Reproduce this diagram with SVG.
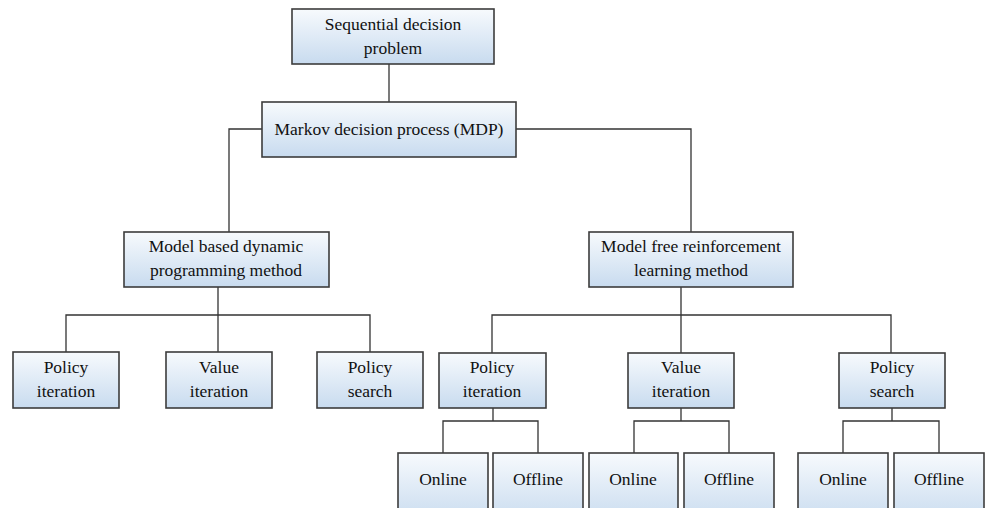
<svg xmlns="http://www.w3.org/2000/svg" width="991" height="508" viewBox="0 0 991 508">
<defs>
<linearGradient id="g" x1="0" y1="0" x2="0" y2="1">
<stop offset="0" stop-color="#f7fafd"/>
<stop offset="1" stop-color="#c8dbef"/>
</linearGradient>
<style>
.box{fill:url(#g);stroke:#3c3c3c;stroke-width:1.6}
.t{font-family:"Liberation Serif","Times New Roman",serif;font-size:17.5px;fill:#111;text-anchor:middle}
.c{fill:none;stroke:#333;stroke-width:1.3}
</style>
</defs>
<rect width="991" height="508" fill="#fff"/>
<g id="connectors" class="c">
<path d="M389 64V102"/>
<path d="M262 129H229V232"/>
<path d="M516 129H691V232"/>
<path d="M218 287V315M66 352V315H370V352M218 315V352"/>
<path d="M681 287V315M492 353V315H891V353M681 315V353"/>
<path d="M493 408V421M443 453V421H538V453"/>
<path d="M681 408V421M634 453V421H729V453"/>
<path d="M892 408V421M843 453V421H939V453"/>
</g>
<g id="n_seq"><rect class="box" x="292" y="9" width="202" height="55"/><text class="t" x="393" y="30">Sequential decision</text><text class="t" x="393" y="54">problem</text></g>
<g id="n_mdp"><rect class="box" x="262" y="102" width="254" height="55"/><text class="t" x="389" y="135">Markov decision process (MDP)</text></g>
<g id="n_mb"><rect class="box" x="124" y="232" width="205" height="55"/><text class="t" x="226" y="252">Model based dynamic</text><text class="t" x="226" y="276">programming method</text></g>
<g id="n_mf"><rect class="box" x="589" y="232" width="204" height="55"/><text class="t" x="691" y="252">Model free reinforcement</text><text class="t" x="691" y="276">learning method</text></g>
<g id="n_mb_pi"><rect class="box" x="13" y="352" width="106" height="56"/><text class="t" x="66" y="373">Policy</text><text class="t" x="66" y="397">iteration</text></g>
<g id="n_mb_vi"><rect class="box" x="166" y="352" width="106" height="56"/><text class="t" x="219" y="373">Value</text><text class="t" x="219" y="397">iteration</text></g>
<g id="n_mb_ps"><rect class="box" x="317" y="352" width="106" height="56"/><text class="t" x="370" y="373">Policy</text><text class="t" x="370" y="397">search</text></g>
<g id="n_mf_pi"><rect class="box" x="439" y="353" width="107" height="55"/><text class="t" x="492" y="373">Policy</text><text class="t" x="492" y="397">iteration</text></g>
<g id="n_mf_vi"><rect class="box" x="628" y="353" width="106" height="55"/><text class="t" x="681" y="373">Value</text><text class="t" x="681" y="397">iteration</text></g>
<g id="n_mf_ps"><rect class="box" x="839" y="353" width="106" height="55"/><text class="t" x="892" y="373">Policy</text><text class="t" x="892" y="397">search</text></g>
<g id="n_on1"><rect class="box" x="398" y="453" width="90" height="70"/><text class="t" x="443" y="485">Online</text></g>
<g id="n_off1"><rect class="box" x="493" y="453" width="90" height="70"/><text class="t" x="538" y="485">Offline</text></g>
<g id="n_on2"><rect class="box" x="589" y="453" width="89" height="70"/><text class="t" x="633" y="485">Online</text></g>
<g id="n_off2"><rect class="box" x="684" y="453" width="90" height="70"/><text class="t" x="729" y="485">Offline</text></g>
<g id="n_on3"><rect class="box" x="798" y="453" width="90" height="70"/><text class="t" x="843" y="485">Online</text></g>
<g id="n_off3"><rect class="box" x="894" y="453" width="90" height="70"/><text class="t" x="939" y="485">Offline</text></g>
</svg>
